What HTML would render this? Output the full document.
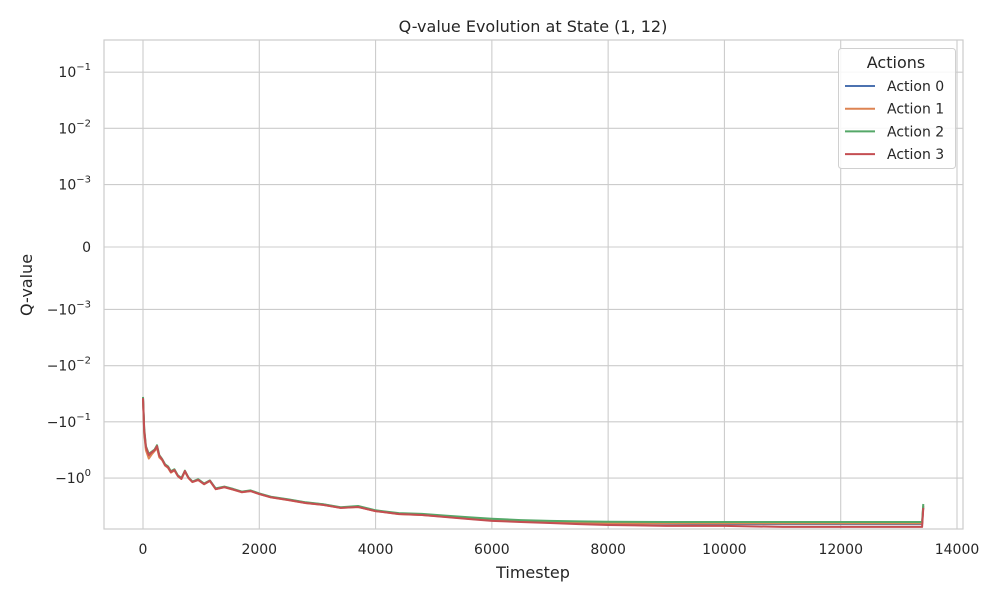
<!DOCTYPE html>
<html><head><meta charset="utf-8"><style>
body{margin:0;background:#fff}
svg{display:block;font-family:"DejaVu Sans","Liberation Sans",sans-serif;fill:#262626}
</style></head><body>
<svg id="chart" width="1000" height="600" viewBox="0 0 1000 600"></svg>
<script>
const timesteps=[0,20,50,100,150,200,240,280,330,380,430,480,540,600,660,720,780,850,950,1050,1150,1250,1400,1550,1700,1850,2000,2200,2500,2800,3100,3400,3700,4000,4400,4800,5200,5600,6000,6500,7000,7500,8000,9000,10000,11000,12000,13000,13400,13420];
const action0=[-0.037,-0.15,-0.29,-0.40,-0.36,-0.32,-0.28,-0.41,-0.47,-0.58,-0.63,-0.77,-0.71,-0.91,-1.02,-0.76,-0.98,-1.16,-1.07,-1.26,-1.11,-1.55,-1.44,-1.58,-1.76,-1.68,-1.90,-2.18,-2.42,-2.74,-2.95,-3.35,-3.2,-3.8,-4.3,-4.45,-4.8,-5.2,-5.6,-5.9,-6.1,-6.3,-6.45,-6.55,-6.6,-6.6,-6.6,-6.6,-6.6,-3.2];
const action1=[-0.04,-0.16,-0.32,-0.45,-0.38,-0.33,-0.29,-0.43,-0.48,-0.60,-0.66,-0.80,-0.73,-0.93,-1.04,-0.77,-1.0,-1.18,-1.09,-1.29,-1.13,-1.58,-1.46,-1.61,-1.79,-1.71,-1.93,-2.21,-2.47,-2.79,-3.0,-3.4,-3.28,-3.88,-4.38,-4.55,-4.9,-5.3,-5.7,-5.95,-6.15,-6.3,-6.4,-6.4,-6.4,-6.4,-6.4,-6.4,-6.4,-3.1];
const action2=[-0.036,-0.13,-0.27,-0.37,-0.34,-0.31,-0.26,-0.39,-0.46,-0.57,-0.62,-0.76,-0.70,-0.90,-1.0,-0.74,-0.97,-1.15,-1.05,-1.25,-1.10,-1.53,-1.42,-1.56,-1.74,-1.66,-1.88,-2.15,-2.40,-2.70,-2.92,-3.3,-3.15,-3.75,-4.2,-4.35,-4.65,-5.0,-5.3,-5.6,-5.8,-5.9,-6.0,-6.05,-6.05,-6.05,-6.05,-6.05,-6.05,-2.9];
const action3=[-0.038,-0.14,-0.28,-0.39,-0.35,-0.32,-0.27,-0.40,-0.47,-0.59,-0.64,-0.78,-0.72,-0.92,-1.03,-0.75,-0.99,-1.17,-1.08,-1.28,-1.12,-1.57,-1.45,-1.60,-1.78,-1.70,-1.92,-2.20,-2.46,-2.78,-3.0,-3.4,-3.27,-3.87,-4.37,-4.55,-4.93,-5.35,-5.8,-6.05,-6.3,-6.6,-6.85,-7.1,-7.1,-7.4,-7.4,-7.4,-7.4,-3.4];
const seriesNames=["Action 0","Action 1","Action 2","Action 3"];
const xTicks=[0,2000,4000,6000,8000,10000,12000,14000];
const yTickVals=[0.1,0.01,0.001,0,-0.001,-0.01,-0.1,-1];
const yTickExp=["−1","−2","−3","","−3","−2","−1","0"];

const NS="http://www.w3.org/2000/svg";
const svg=document.getElementById("chart");
const L=104,R=963,T=40,B=529;
function X(t){return 143+t*(957-143)/14000;}
function Y(v){const lt=1e-3,ls=1/0.9;let d;
 if(Math.abs(v)<=lt)d=v/lt*ls;else d=Math.sign(v)*(ls+Math.log10(Math.abs(v)/lt));
 return 247-d*56.2;}
function el(tag,attrs,parent){const e=document.createElementNS(NS,tag);for(const k in attrs)e.setAttribute(k,attrs[k]);(parent||svg).appendChild(e);return e;}

const grid=el("g",{});


xTicks.forEach(t=>{el("line",{x1:X(t),x2:X(t),y1:T,y2:B,stroke:"#cccccc","stroke-width":1.1},grid);
 const tx=el("text",{x:X(t),y:554,"text-anchor":"middle","font-size":14});tx.textContent=t;
 
 });
yTickVals.forEach((v,i)=>{const y=Y(v);el("line",{x1:L,x2:R,y1:y,y2:y,stroke:"#cccccc","stroke-width":1.1},grid);
 const tx=el("text",{x:91,y:y+5,"text-anchor":"end","font-size":14});
 
 
 if(v===0){tx.textContent="0";}else{
  const a=el("tspan",{},tx);a.textContent=(v<0?"−":"")+"10";
  const b=el("tspan",{dy:-7,"font-size":10},tx);b.textContent=yTickExp[i];}
});
const frame=el("rect",{x:L,y:T,width:R-L,height:B-T,fill:"none",stroke:"#cccccc","stroke-width":1.2});



const colors=["#4c72b0","#dd8452","#55a868","#c44e52"];
[action0,action1,action2,action3].forEach((arr,si)=>{
 const d=arr.map((v,i)=>(i?"L":"M")+X(timesteps[i]).toFixed(1)+","+Y(v).toFixed(1)).join("");
 const p=el("path",{d:d,fill:"none",stroke:colors[si],"stroke-width":2,"stroke-linejoin":"round"});
 
 
});

const title=el("text",{x:533,y:32,"text-anchor":"middle","font-size":16});title.textContent="Q-value Evolution at State (1, 12)";


const xl=el("text",{x:533,y:578,"text-anchor":"middle","font-size":16});xl.textContent="Timestep";


const yl=el("text",{x:0,y:0,"text-anchor":"middle","font-size":16,transform:"translate(32,285) rotate(-90)"});yl.textContent="Q-value";



const lg=el("g",{});


el("rect",{x:838.5,y:48.5,width:117,height:120,rx:3,fill:"#fff","fill-opacity":0.85,stroke:"#d0d0d0"},lg);
const lt=el("text",{x:896,y:68,"text-anchor":"middle","font-size":16},lg);lt.textContent="Actions";
seriesNames.forEach((n,i)=>{const y=86+i*22.7;
 const g=el("g",{},lg);
 
 
 el("line",{x1:845,x2:875,y1:y,y2:y,stroke:colors[i],"stroke-width":2},g);
 const t=el("text",{x:887,y:y+5,"font-size":14},g);t.textContent=n;});
</script>
</body></html>
